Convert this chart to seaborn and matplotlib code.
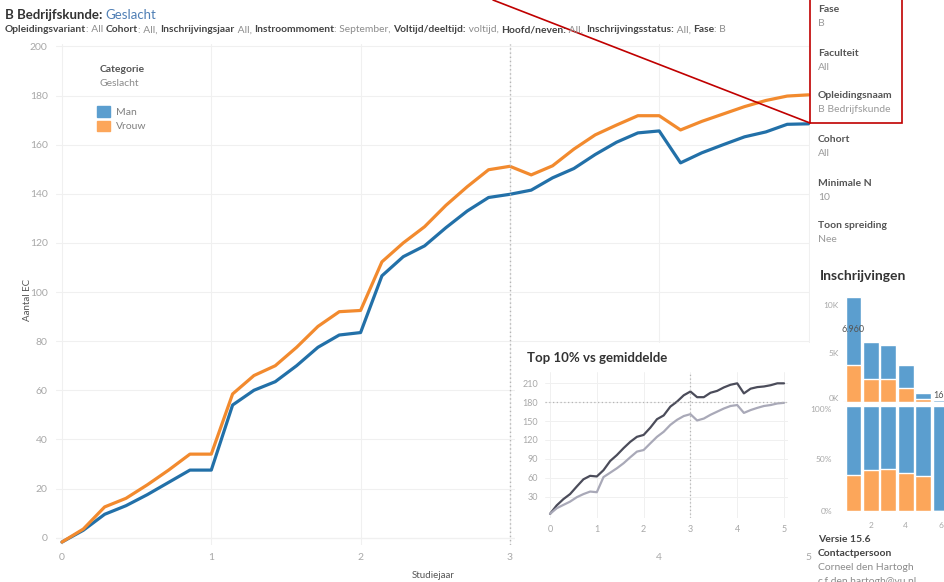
import numpy as np
import pandas as pd
import matplotlib
matplotlib.use("Agg")
import matplotlib.pyplot as plt
import seaborn as sns
from matplotlib.patches import Patch, Rectangle
from matplotlib.lines import Line2D
from matplotlib.ticker import FuncFormatter

# studiejaar in stappen van 1/7 jaar
stap = np.arange(36) / 7

man = [-1.8, 3.0, 9.5, 13, 17.5, 22.5, 27.5, 27.5,
       54, 60, 63.5, 70, 77.5, 82.5, 83.5,
       106.6, 114.4, 118.8, 126.2, 133, 138.5, 139.8,
       141.5, 146.5, 150.3, 156, 161, 164.8, 165.6,
       152.6, 156.7, 160, 163.2, 165.2, 168.3, 168.5]
vrouw = [-1.8, 3.5, 12.5, 16, 21.5, 27.5, 34, 34,
         58.5, 66, 70, 77.5, 86, 92, 92.5,
         112.3, 120, 126.6, 135.3, 142.9, 149.8, 151.2,
         147.7, 151.4, 158.2, 164, 168, 171.8, 171.8,
         166, 169.5, 172.5, 175.5, 178, 179.8, 180.3]

# inzet: top 10% vs gemiddelde
top10 = [2.5, 16, 26, 34, 46, 57.5, 63, 62,
         72, 86.6, 96, 107, 117, 125, 128,
         139.5, 153, 159, 173, 181, 191, 197,
         188, 188, 195, 198, 203.5, 207.7, 210,
         194, 201.5, 204, 205, 207, 210, 210]
gemiddelde = [2.5, 11.5, 16.8, 22, 29, 34, 38, 37,
              61, 68, 75, 83, 92.5, 101.5, 104,
              114.6, 125, 133, 144, 152, 158, 161,
              151, 154, 160, 165, 170, 174, 175.5,
              163, 167.5, 171, 174, 175.5, 178, 179]

# inschrijvingen per aantal jaren
jaren = [1, 2, 3, 4, 5, 6]
ins_man = [6960, 3800, 3500, 2400, 620, 163]
ins_vrouw = [3850, 2400, 2400, 1400, 350, 0]
pct_vrouw = [34, 39, 40, 36, 33, 0]

BLAUW = "#2270a8"
ORANJE = "#f28a2e"
LBLAUW = "#5b9ecf"
LORANJE = "#fca65a"
GRIJS = "#a8a8a8"
DONKER = "#333333"

sns.set_theme(style="white")
plt.rcParams["font.family"] = ["Lato", "DejaVu Sans"]

W, H = 945, 582
fig = plt.figure(figsize=(W / 100, H / 100), dpi=100)


def rect(x0, y0, x1, y1):
    # pixel coords (top-left origin) -> figure fraction
    return [x0 / W, 1 - y1 / H, (x1 - x0) / W, (y1 - y0) / H]


def kaal(ax):
    for s in ax.spines.values():
        s.set_visible(False)
    ax.tick_params(length=0, colors=GRIJS)


# ---- hoofdgrafiek
ax = fig.add_axes(rect(56, 44, 810, 545))
df = pd.DataFrame({"Studiejaar": np.concatenate([stap, stap]),
                   "EC": man + vrouw,
                   "Geslacht": ["Man"] * 36 + ["Vrouw"] * 36})
sns.lineplot(data=df, x="Studiejaar", y="EC", hue="Geslacht",
             palette={"Man": BLAUW, "Vrouw": ORANJE}, lw=2.3, ax=ax, legend=False)
ax.set_xlim(-0.04, 5.01)
ax.set_ylim(-3, 201)
ax.set_xticks(range(6))
ax.set_yticks(range(0, 201, 20))
ax.tick_params(labelsize=7.5, pad=6)
ax.grid(True, color="#f0f0f0", lw=0.8)
kaal(ax)
ax.axhline(0, color="#e4e4e4", lw=0.8, zorder=0)
ax.axvline(3, color="#b5b5b5", lw=1, ls=(0, (1, 2)))
ax.set_xlabel("")
ax.set_ylabel("")
ax.legend(handles=[Patch(color=LBLAUW), Patch(color=LORANJE)], labels=["Man", "Vrouw"],
          loc="upper left", bbox_to_anchor=(97 / W, 1 - 106 / H), bbox_transform=fig.transFigure,
          frameon=False, handlelength=1.25, handleheight=1.2, handletextpad=0.55,
          labelspacing=0.35, borderpad=0, borderaxespad=0, fontsize=7.5, labelcolor="#808080")

# ---- inzet paneel
bg = fig.add_axes(rect(515, 343, 810, 545))
bg.set_facecolor("white")
bg.set_xticks([])
bg.set_yticks([])
kaal(bg)

ins = fig.add_axes(rect(545, 372, 788, 518))
di = pd.DataFrame({"Studiejaar": np.concatenate([stap, stap]),
                   "EC": top10 + gemiddelde,
                   "Groep": ["Top 10%"] * 36 + ["Gemiddelde"] * 36})
sns.lineplot(data=di, x="Studiejaar", y="EC", hue="Groep",
             palette={"Top 10%": "#4b4c5a", "Gemiddelde": "#a9a9b8"}, lw=1.6, ax=ins, legend=False)
ins.set_xlim(-0.107, 5.085)
ins.set_ylim(-4, 228)
ins.set_xticks(range(6))
ins.set_yticks(range(30, 211, 30))
ins.tick_params(labelsize=6.5, pad=5)
ins.grid(True, color="#f0f0f0", lw=0.7)
kaal(ins)
ins.axvline(3, color="#b5b5b5", lw=0.9, ls=(0, (1, 2)))
ins.axhline(180, color="#b5b5b5", lw=0.9, ls=(0, (1, 2)))
ins.set_xlabel("")
ins.set_ylabel("")

# ---- inschrijvingen
bi = pd.DataFrame({"jaar": jaren,
                   "totaal": np.array(ins_man) + np.array(ins_vrouw),
                   "vrouw": ins_vrouw,
                   "pct_v": pct_vrouw,
                   "pct_t": [100] * 6})
b1 = fig.add_axes(rect(843, 292, 945, 402))
sns.barplot(data=bi, x="jaar", y="totaal", native_scale=True, color=LBLAUW, width=0.9,
            saturation=1, ax=b1)
sns.barplot(data=bi, x="jaar", y="vrouw", native_scale=True, color=LORANJE, width=0.9,
            saturation=1, ax=b1)
b1.set_xlim(0.4, 6.25)
b1.set_ylim(0, 11340)
b1.set_yticks([0, 5000, 10000])
b1.yaxis.set_major_formatter(FuncFormatter(lambda v, p: f"{int(v / 1000)}K"))
b1.set_xticks([])
b1.tick_params(labelsize=6, pad=3)
b1.get_yticklabels()[0].set_va("bottom")
kaal(b1)
b1.axhline(0, color="#d8d8d8", lw=0.8)
b1.set_xlabel("")
b1.set_ylabel("")
b1.text(1, 7000, "6.960", ha="center", va="bottom", fontsize=6.5, color="#555555")
b1.text(6, 163, "163", ha="center", va="bottom", fontsize=6.5, color="#555555")

b2 = fig.add_axes(rect(843, 406, 945, 511))
sns.barplot(data=bi, x="jaar", y="pct_t", native_scale=True, color=LBLAUW, width=0.9,
            saturation=1, ax=b2)
sns.barplot(data=bi, x="jaar", y="pct_v", native_scale=True, color=LORANJE, width=0.9,
            saturation=1, ax=b2)
b2.set_xlim(0.4, 6.25)
b2.set_ylim(0, 100)
b2.set_yticks([0, 50, 100])
b2.yaxis.set_major_formatter(FuncFormatter(lambda v, p: f"{int(v)}%"))
b2.set_xticks([2, 4, 6])
b2.tick_params(labelsize=6, pad=8)
b2.get_yticklabels()[-1].set_va("top")
kaal(b2)
b2.set_xlabel("")
b2.set_ylabel("")

# ---- teksten in pixelcoordinaten
ov = fig.add_axes([0, 0, 1, 1])
ov.set_xlim(0, W)
ov.set_ylim(H, 0)
ov.axis("off")


def keten(x, y, delen, size):
    t = None
    for s, kleur, w in delen:
        if t is None:
            t = ov.text(x, y, s, fontsize=size, fontweight=w, color=kleur, va="center", ha="left")
        else:
            t = ov.annotate(s, xy=(1, 0), xycoords=t, fontsize=size, fontweight=w,
                            color=kleur, va="bottom", ha="left")


keten(5, 15, [("B Bedrijfskunde", DONKER, "bold"), (": ", DONKER, "bold"),
              ("Geslacht", "#4f7fb5", "normal")], 9.5)
sub = [("Opleidingsvariant", "b"), (": All ", "n"), ("Cohort", "b"), (": All, ", "n"),
       ("Inschrijvingsjaar", "b"), (" All, ", "n"), ("Instroommoment", "b"),
       (": September, ", "n"), ("Voltijd/deeltijd:", "b"), (" voltijd, ", "n"),
       ("Hoofd/neven:", "b"), (" All, ", "n"), ("Inschrijvingsstatus:", "b"), (" All, ", "n"),
       ("Fase", "b"), (": B", "n")]
keten(5, 30, [(s, "#444444" if k == "b" else "#8c8c8c", "bold" if k == "b" else "normal")
              for s, k in sub], 7.4)

ov.text(27, 300, "Aantal EC", rotation=90, ha="center", va="center", fontsize=7, color="#555555")
ov.text(433, 576, "Studiejaar", ha="center", va="center", fontsize=7, color="#555555")
ov.text(100, 70, "Categorie", fontsize=7.5, fontweight="bold", color="#555555", va="center")
ov.text(100, 84, "Geslacht", fontsize=7.5, color="#8c8c8c", va="center")
ov.text(527, 358, "Top 10% vs gemiddelde", fontsize=9.5, fontweight="bold", color=DONKER, va="center")
ov.text(820, 276, "Inschrijvingen", fontsize=10, fontweight="bold", color=DONKER, va="center")

filters = [("Fase", "B", 9), ("Faculteit", "All", 53), ("Opleidingsnaam", "B Bedrijfskunde", 96),
           ("Cohort", "All", 140), ("Minimale N", "10", 183), ("Toon spreiding", "Nee", 226)]
for lab, val, y in filters:
    ov.text(818, y, lab, fontsize=7.5, fontweight="bold", color="#555555", va="center")
    ov.text(818, y + 14, val, fontsize=7.5, color="#9a9a9a", va="center")

ov.text(818, 540, "Versie 15.6", fontsize=7.5, fontweight="bold", color="#444444", va="center")
ov.text(818, 554, "Contactpersoon", fontsize=7.5, fontweight="bold", color="#444444", va="center")
ov.text(818, 567, "Corneel den Hartogh", fontsize=7.5, color="#8c8c8c", va="center")
ov.text(818, 581, "c.f.den.hartogh@vu.nl", fontsize=7.5, color="#8c8c8c", va="center")

# rode markering
ov.add_patch(Rectangle((810, -2), 92, 125, fill=False, ec="#c00000", lw=1.2))
ov.add_line(Line2D([493, 810], [0, 123], color="#c00000", lw=1.2))

fig.savefig("out.png", dpi=100)
